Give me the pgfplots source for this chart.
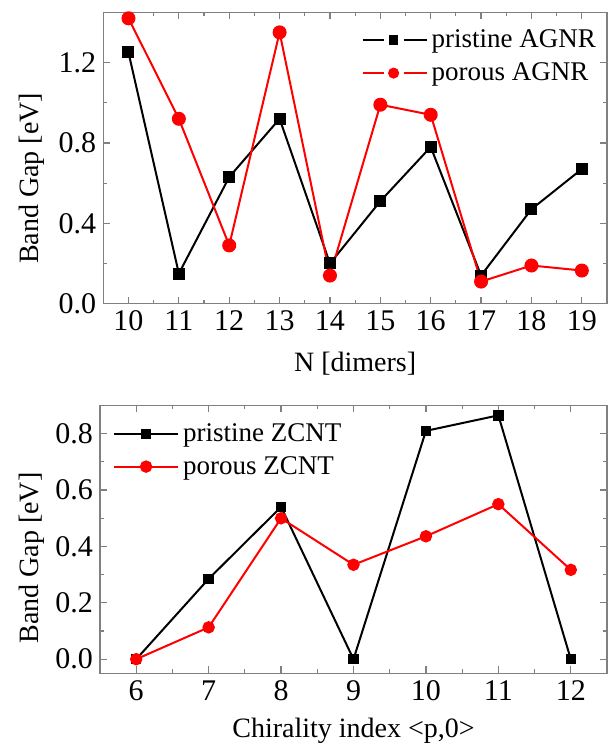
\documentclass[border=0pt]{standalone}
\usepackage{fontspec}
\setmainfont{Liberation Serif}
\usepackage{pgfplots}
\pgfplotsset{compat=1.18}

\definecolor{axgray}{RGB}{128,128,128}

\pgfplotsset{
  bgstyle/.style={
    scale only axis,
    clip=false,
    axis line style={axgray, line width=0.6pt},
    tick style={axgray, line width=0.6pt},
    tick align=inside,
    major tick length=3.5pt,
    minor tick length=2pt,
    minor x tick num=1,
    minor y tick num=1,
    tick label style={font=\fontsize{15}{17}\selectfont},
    label style={font=\fontsize{14}{16}\selectfont},
    /pgf/number format/assume math mode=true,
    yticklabel style={/pgf/number format/.cd, fixed, fixed zerofill, precision=1},
    legend style={draw=none, fill=none, font=\fontsize{13.5}{15}\selectfont,
      row sep=2pt, inner sep=0pt},
    legend cell align=left,
    every axis plot/.append style={line width=1pt},
  },
}

\begin{document}
\begin{tikzpicture}
\path[use as bounding box] (0,0) rectangle (303.5pt,373.5pt);

% upper panel: AGNR
\begin{axis}[bgstyle,
  at={(51.65pt,221.65pt)}, anchor=south west,
  width=251.85pt, height=145.7pt,
  xmin=9.5, xmax=19.5, ymin=0, ymax=1.45,
  xtick={10,...,19}, ytick={0,0.4,0.8,1.2},
  xlabel={N [dimers]}, ylabel={Band Gap [eV]},
  xlabel style={at={(rel axis cs:0.5,-0.206)}, anchor=center},
  ylabel style={at={(rel axis cs:-0.1416,0.43)}, anchor=center},
  legend style={at={(rel axis cs:0.512,0.955)}, anchor=north west},
  legend image code/.code={
    \draw[#1] (0pt,0pt) -- (10.5pt,0pt) (20.5pt,0pt) -- (32pt,0pt);
    \draw[#1, only marks, mark options={scale=0.75}] plot coordinates {(15.5pt,0pt)};
  },
]
\addplot[black, mark=square*, mark size=2.5pt] coordinates {
  (10,1.25) (11,0.15) (12,0.63) (13,0.92) (14,0.20)
  (15,0.51) (16,0.78) (17,0.14) (18,0.47) (19,0.67)};
\addlegendentry{pristine AGNR}
\addplot[red, mark=*, mark size=3pt] coordinates {
  (10,1.42) (11,0.92) (12,0.29) (13,1.35) (14,0.14)
  (15,0.99) (16,0.94) (17,0.11) (18,0.19) (19,0.165)};
\addlegendentry{porous AGNR}
\end{axis}

% lower panel: ZCNT
\begin{axis}[bgstyle,
  at={(50pt,36.85pt)}, anchor=south west,
  width=253.5pt, height=133.9pt,
  xmin=5.5, xmax=12.5, ymin=-0.05, ymax=0.9,
  xtick={6,...,12}, ytick={0,0.2,...,0.8},
  xlabel={Chirality index <p,0>}, ylabel={Band Gap [eV]},
  xlabel style={at={(rel axis cs:0.5,-0.2166)}, anchor=center},
  ylabel style={at={(rel axis cs:-0.134,0.43)}, anchor=center},
  legend style={at={(rel axis cs:0.025,0.95)}, anchor=north west},
  legend image code/.code={
    \draw[mark repeat=2, mark phase=2, #1] plot coordinates {(0pt,0pt) (16pt,0pt) (32pt,0pt)};
  },
]
\addplot[black, mark=square*, mark size=2.1pt] coordinates {
  (6,0) (7,0.285) (8,0.54) (9,0) (10,0.81) (11,0.865) (12,0)};
\addlegendentry{pristine ZCNT}
\addplot[red, mark=*, mark size=2.6pt] coordinates {
  (6,0) (7,0.113) (8,0.50) (9,0.335) (10,0.436) (11,0.55) (12,0.317)};
\addlegendentry{porous ZCNT}
\end{axis}
\end{tikzpicture}
\end{document}
